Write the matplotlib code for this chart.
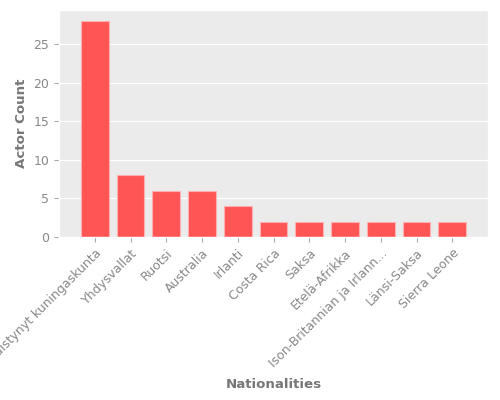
import matplotlib
matplotlib.use("Agg")
import matplotlib.pyplot as plt

plt.style.use("ggplot")

categories = ["Yhdistynyt kuningaskunta", "Yhdysvallat", "Ruotsi", "Australia", "Irlanti",
              "Costa Rica", "Saksa", "Etelä-Afrikka", "Ison-Britannian ja Irlann...",
              "Länsi-Saksa", "Sierra Leone"]
counts = [28, 8, 6, 6, 4, 2, 2, 2, 2, 2, 2]

fig = plt.figure(figsize=(5, 4), dpi=100)
ax = fig.add_axes([0.118, 0.4075, 0.858, 0.5675])
ax.set_facecolor("#EBEBEB")
x = list(range(len(categories)))
ax.bar(x, counts, width=0.78, color="#FF5555", edgecolor="#FFB0B0", linewidth=0.8)
ax.set_xlim(-1, len(categories))
ax.set_ylim(0, 29.4)
ax.set_xticks(x)
ax.set_xticklabels(categories, rotation=45, ha="right", rotation_mode="anchor", fontsize=9, color="#888888")
ax.tick_params(axis="y", labelsize=9, labelcolor="#888888")
ax.tick_params(colors="#AAAAAA", which="both")
ax.tick_params(axis="both", labelcolor="#888888")
ax.grid(axis="x", visible=False)
ax.set_xlabel("Nationalities", fontsize=9.6, fontweight="bold", color="#777777", labelpad=6)
ax.set_ylabel("Actor Count", fontsize=9.6, fontweight="bold", color="#777777")
fig.savefig("out.png", dpi=100)
